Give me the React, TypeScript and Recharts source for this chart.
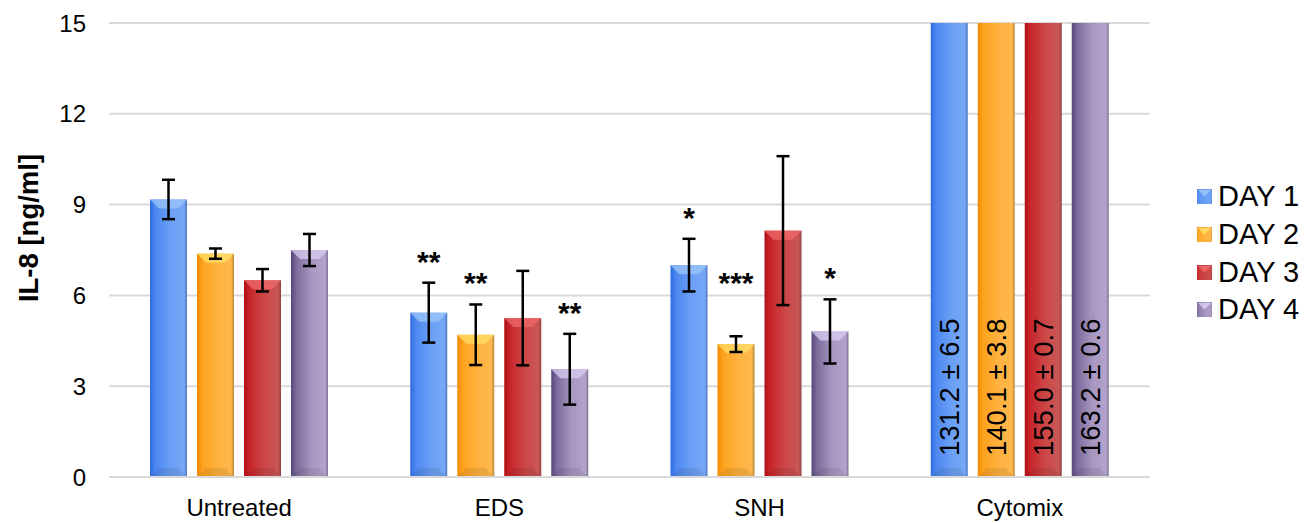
import React from "react";
import {
  BarChart,
  Bar,
  XAxis,
  YAxis,
  CartesianGrid,
  ErrorBar,
  LabelList,
} from "recharts";

const categories = ["Untreated", "EDS", "SNH", "Cytomix"];
const seriesNames = ["DAY 1", "DAY 2", "DAY 3", "DAY 4"];

const day1 = [9.17, 5.43, 7.0, 131.2];
const day2 = [7.38, 4.7, 4.39, 140.1];
const day3 = [6.5, 5.25, 8.14, 155.0];
const day4 = [7.5, 3.56, 4.81, 163.2];

const day1Err = [0.65, 0.99, 0.87, 6.5];
const day2Err = [0.17, 1.0, 0.26, 3.8];
const day3Err = [0.37, 1.56, 2.46, 0.7];
const day4Err = [0.53, 1.17, 1.06, 0.6];

const day1Sig = ["", "**", "*", ""];
const day2Sig = ["", "**", "***", ""];
const day3Sig = ["", "", "", ""];
const day4Sig = ["", "**", "*", ""];

const yTicks = [0, 3, 6, 9, 12, 15];
const Y_MAX = 15;

const values = [day1, day2, day3, day4];
const errors = [day1Err, day2Err, day3Err, day4Err];

const data = categories.map((name, i) => ({
  name,
  d1: day1[i], e1: day1Err[i], s1: day1Sig[i],
  d2: day2[i], e2: day2Err[i], s2: day2Sig[i],
  d3: day3[i], e3: day3Err[i], s3: day3Sig[i],
  d4: day4[i], e4: day4Err[i], s4: day4Sig[i],
}));

// gradient stops: left edge -> body -> right edge
const palettes = [
  { id: "g1", stops: ["#2d6be3", "#4d88f0", "#6a9ff5", "#77a8f6", "#4c76c2"], top: "#9cc6fa" },
  { id: "g2", stops: ["#f08a00", "#fda21f", "#ffb23f", "#ffb84d", "#b88838"], top: "#ffe066" },
  { id: "g3", stops: ["#b10f15", "#c8252a", "#cc4747", "#c95656", "#92403f"], top: "#f06a6a" },
  { id: "g4", stops: ["#56467a", "#7c6c9c", "#a696c0", "#b4a4cc", "#7d7292"], top: "#d8cdf0" },
];

const FONT = "'Liberation Sans', Arial, sans-serif";

function BevelBar(props: any) {
  const { x, y, width, height, pal } = props;
  if (!width || height <= 0) return null;
  const b = Math.min(9, height / 2);
  return (
    <g>
      <rect x={x} y={y} width={width} height={height} fill={`url(#${pal.id})`} />
      <polygon
        points={`${x},${y} ${x + width},${y} ${x + width - b},${y + b} ${x + b},${y + b}`}
        fill={pal.top}
        opacity={0.75}
      />
      <polygon
        points={`${x},${y + height} ${x + width},${y + height} ${x + width - b},${y + height - b} ${x + b},${y + height - b}`}
        fill="#000"
        opacity={0.08}
      />
    </g>
  );
}

// significance stars sit above the error bar
function makeSigLabel(series: number) {
  return (props: any) => {
    const { x, y, width, height, index, value } = props;
    if (!value) return null;
    const v = values[series][index];
    const e = errors[series][index];
    const pxPerUnit = height / v;
    const errTop = y - e * pxPerUnit;
    const lift = value.length === 3 && e < 0.5 ? 60 : 28;
    const cy = errTop - lift;
    return (
      <text
        x={x + width / 2}
        y={cy + 17}
        textAnchor="middle"
        fontFamily={FONT}
        fontWeight="bold"
        fontSize={30}
        fill="#000"
      >
        {value}
      </text>
    );
  };
}

// off-scale bars get their value written inside
function makeBigLabel(series: number) {
  return (props: any) => {
    const { x, y, width, height, index } = props;
    const v = values[series][index];
    if (v <= Y_MAX) return null;
    const e = errors[series][index];
    const bottom = y + height;
    const cx = x + width / 2 + 10;
    const sy = bottom - 21;
    return (
      <text
        x={cx}
        y={sy}
        transform={`rotate(-90, ${cx}, ${sy})`}
        textAnchor="start"
        fontFamily={FONT}
        fontSize={27.5}
        fill="#000"
      >
        {`${v.toFixed(1)} ± ${e.toFixed(1)}`}
      </text>
    );
  };
}

function Legend() {
  return (
    <div
      style={{
        position: "absolute",
        left: 1197,
        top: 178,
        fontFamily: FONT,
        fontSize: 29,
        color: "#000",
      }}
    >
      {seriesNames.map((n, i) => (
        <div key={n} style={{ display: "flex", alignItems: "center", height: 37.7 }}>
          <svg width={15} height={15} style={{ marginRight: 6 }}>
            <rect x={0} y={0} width={15} height={15} fill={palettes[i].stops[2]} />
            <rect x={0} y={0} width={15} height={15} fill={`url(#${palettes[i].id})`} opacity={0.5} />
            <polygon points="1,1 14,1 7.5,7.5" fill={palettes[i].top} opacity={0.85} />
          </svg>
          <span>{n}</span>
        </div>
      ))}
    </div>
  );
}

export default function App() {
  const keys = ["d1", "d2", "d3", "d4"];
  return (
    <div style={{ position: "absolute", left: 0, top: 0, width: 1312, height: 523, background: "#fff" }}>
      <BarChart
        width={1312}
        height={523}
        data={data}
        margin={{ top: 23, right: 162, bottom: 0, left: 0 }}
        barSize={37}
        barGap={10}
      >
        <defs>
          {palettes.map((p) => (
            <linearGradient key={p.id} id={p.id} x1="0" y1="0" x2="1" y2="0">
              <stop offset="0%" stopColor={p.stops[0]} />
              <stop offset="15%" stopColor={p.stops[1]} />
              <stop offset="55%" stopColor={p.stops[2]} />
              <stop offset="92%" stopColor={p.stops[3]} />
              <stop offset="100%" stopColor={p.stops[4]} />
            </linearGradient>
          ))}
        </defs>
        <CartesianGrid vertical={false} stroke="#d9d9d9" strokeWidth={2} />
        <XAxis
          dataKey="name"
          height={46}
          axisLine={{ stroke: "#d9d9d9", strokeWidth: 2 }}
          tickLine={false}
          tickSize={0}
          tickMargin={22}
          tick={{ fill: "#000", fontSize: 24, fontFamily: FONT }}
        />
        <YAxis
          width={109}
          domain={[0, Y_MAX]}
          ticks={yTicks}
          allowDataOverflow
          axisLine={false}
          tickLine={false}
          tickSize={0}
          tickMargin={23}
          tick={{ fill: "#000", fontSize: 24, fontFamily: FONT }}
          label={{
            content: () => (
              <text
                x={28}
                y={228}
                transform="rotate(-90, 28, 228)"
                textAnchor="middle"
                dominantBaseline="central"
                fontFamily={FONT}
                fontWeight="bold"
                fontSize={27.5}
                fill="#000"
              >
                IL-8 [ng/ml]
              </text>
            ),
          }}
        />
        {keys.map((k, i) => (
          <Bar
            key={k}
            dataKey={k}
            name={seriesNames[i]}
            isAnimationActive={false}
            shape={(p: any) => <BevelBar {...p} pal={palettes[i]} />}
          >
            <ErrorBar dataKey={`e${i + 1}`} width={6.5} stroke="#000" strokeWidth={2.5} direction="y" />
            <LabelList dataKey={`s${i + 1}`} content={makeSigLabel(i)} />
            <LabelList dataKey={k} content={makeBigLabel(i)} />
          </Bar>
        ))}
      </BarChart>
      <Legend />
    </div>
  );
}
